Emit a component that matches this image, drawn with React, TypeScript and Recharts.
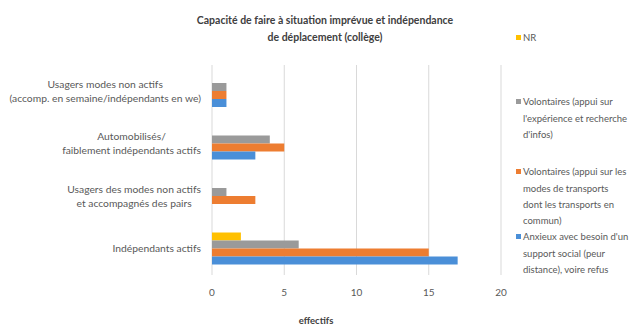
import React from 'react';
import { BarChart, Bar, XAxis, YAxis, CartesianGrid } from 'recharts';

const categories = [
  'Usagers modes non actifs\n(accomp. en semaine/indépendants en we)',
  'Automobilisés/\nfaiblement indépendants actifs',
  'Usagers des modes non actifs\net accompagnés des pairs',
  'Indépendants actifs',
];
const nr = [0, 0, 0, 2];
const volExp = [1, 4, 1, 6];
const volTrans = [1, 5, 3, 15];
const anxieux = [1, 3, 0, 17];
const xTicks = [0, 5, 10, 15, 20];

const seriesNames = [
  'NR',
  "Volontaires (appui sur\nl'expérience et recherche\nd'infos)",
  'Volontaires (appui sur les\nmodes de transports\ndont les transports en\ncommun)',
  "Anxieux avec besoin d'un\nsupport social (peur\ndistance), voire refus",
];
const colors = ['#FFC000', '#9A9A9A', '#ED7D31', '#4A8FD8'];

const data = categories.map((c, i) => ({
  cat: c,
  nr: nr[i],
  volExp: volExp[i],
  volTrans: volTrans[i],
  anxieux: anxieux[i],
}));

const FONT = 'Lato, "Open Sans", sans-serif';
const Y_FS = 10.3;

let ctx: CanvasRenderingContext2D | null = null;
const measure = (s: string) => {
  if (typeof document === 'undefined') return s.length * 5;
  if (!ctx) ctx = document.createElement('canvas').getContext('2d');
  if (!ctx) return s.length * 5;
  ctx.font = `${Y_FS}px Lato, "Open Sans", sans-serif`;
  return ctx.measureText(s).width;
};

const YTick = (props: any) => {
  const { y, payload } = props;
  const lines = String(payload.value).split('\n');
  const lh = 14;
  const maxW = Math.max(...lines.map(measure));
  const cx = 201 - maxW / 2;
  const start = y - ((lines.length - 1) * lh) / 2;
  return (
    <text fill="#595959" fontSize={Y_FS} fontFamily={FONT} textAnchor="middle">
      {lines.map((l, i) => (
        <tspan key={i} x={cx} y={start + i * lh} dy="0.35em" textAnchor="middle">
          {l}
        </tspan>
      ))}
    </text>
  );
};

const legendY = [38, 102, 172, 237];
const legendLH = 16.2;

const LegendBlock = () => (
  <g>
    {seriesNames.map((n, i) => {
      const lines = n.split('\n');
      return (
        <g key={i}>
          <rect x={516} y={legendY[i] - 3} width={5} height={5} fill={colors[i]} />
          <text fill="#595959" fontSize={9.5} fontFamily={FONT}>
            {lines.map((l, j) => (
              <tspan key={j} x={523} y={legendY[i] + j * legendLH} dy="0.35em">
                {l}
              </tspan>
            ))}
          </text>
        </g>
      );
    })}
  </g>
);

export default function App() {
  return (
    <div style={{ position: 'absolute', left: 0, top: 0, width: 644, height: 335, background: '#fff' }}>
      <BarChart
        width={644}
        height={335}
        data={data}
        layout="vertical"
        margin={{ top: 65, right: 143, bottom: 0, left: 0 }}
        barGap={0}
        barCategoryGap="20%"
      >
        <CartesianGrid horizontal={false} stroke="#D9D9D9" />
        <XAxis
          type="number"
          domain={[0, 20]}
          ticks={xTicks}
          axisLine={false}
          tickLine={false}
          height={60}
          tickMargin={8}
          tick={{ fill: '#595959', fontSize: 10, fontFamily: FONT }}
        />
        <YAxis
          type="category"
          dataKey="cat"
          width={212}
          axisLine={false}
          tickLine={false}
          tick={<YTick />}
          interval={0}
        />
        <Bar dataKey="nr" fill={colors[0]} barSize={8} isAnimationActive={false} />
        <Bar dataKey="volExp" fill={colors[1]} barSize={8} isAnimationActive={false} />
        <Bar dataKey="volTrans" fill={colors[2]} barSize={8} isAnimationActive={false} />
        <Bar dataKey="anxieux" fill={colors[3]} barSize={8} isAnimationActive={false} />
        <text x={325} y={20} textAnchor="middle" fill="#404040" fontSize={10.5} fontWeight="bold" fontFamily={FONT}>
          <tspan x={325} dy="0.35em">Capacité de faire à situation imprévue et indépendance</tspan>
          <tspan x={325} dy="17">de déplacement  (collège)</tspan>
        </text>
        <text x={316} y={321} dy="0.35em" textAnchor="middle" fill="#404040" fontSize={9.5} fontWeight="bold" fontFamily={FONT}>
          effectifs
        </text>
        <LegendBlock />
      </BarChart>
    </div>
  );
}
